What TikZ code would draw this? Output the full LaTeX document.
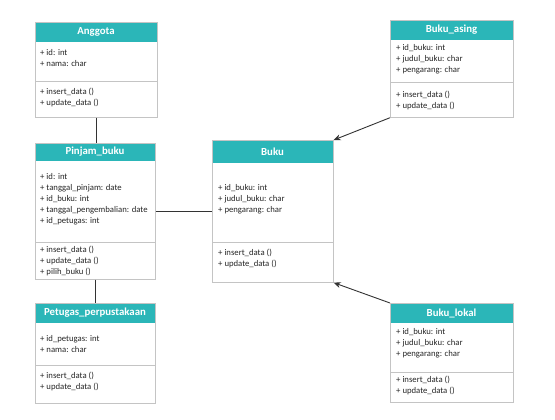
\documentclass[tikz,border=0pt]{standalone}
\usepackage{fontspec}
\setmainfont{Carlito}
\usetikzlibrary{arrows.meta}
\definecolor{headteal}{HTML}{2BB6B8}
\definecolor{framegray}{HTML}{C4C4C4}
\definecolor{arrowgray}{HTML}{333333}
\tikzset{
  umlframe/.style={draw=framegray, line width=0.7pt, inner sep=0pt, fill=none},
  headfill/.style={fill=headteal},
  umltitle/.style={text=white, font=\fontsize{10.8}{12}\selectfont\bfseries, inner sep=0pt},
  umldiv/.style={draw=framegray, line width=0.7pt},
  umltext/.style={anchor=north west, inner sep=0pt, align=left, font=\fontsize{8.7}{11}\selectfont, text=black!85},
  assoc/.style={draw=arrowgray, line width=0.8pt},
  gen/.style={draw=arrowgray, line width=0.9pt, -{Stealth[length=7pt,width=6pt]}}
}
\newcommand\umlbox[8]{%
  \fill[headfill] (#2,#3) rectangle (#4,#5);
  \node[umlframe, anchor=north west, minimum width={#4-#2}, minimum height={#7-#3}] (#1) at (#2,#3) {};
  \node[umltitle] (#1-title) at ({(#2+#4)/2},{(#3+#5)/2}) {#8};
  \draw[umldiv] (#2,#6) -- (#4,#6);
}
\begin{document}
\begin{tikzpicture}[x=1pt,y=-1pt]
\useasboundingbox[fill=white] (0,0) rectangle (555,420);

% Anggota
\umlbox{anggota}{35}{22}{157}{42}{81}{117}{Anggota}
\node[umltext] (anggota-a) at (40,49) {+ id: int\\+ nama: char};
\node[umltext] (anggota-m) at (40,88) {+ insert\_data ()\\+ update\_data ()};

% Pinjam_buku
\umlbox{pinjam}{35}{143}{155}{161}{242}{279}{Pinjam\_buku}
\node[umltext] (pinjam-a) at (40,173.5) {+ id: int\\+ tanggal\_pinjam: date\\+ id\_buku: int\\+ tanggal\_pengembalian: date\\+ id\_petugas: int};
\node[umltext] (pinjam-m) at (40,246) {+ insert\_data ()\\+ update\_data ()\\+ pilih\_buku ()};

% Petugas_perpustakaan
\umlbox{petugas}{35}{303}{155}{323}{365}{403}{Petugas\_perpustakaan}
\node[umltext] (petugas-a) at (40,335) {+ id\_petugas: int\\+ nama: char};
\node[umltext] (petugas-m) at (40,372) {+ insert\_data ()\\+ update\_data ()};

% Buku
\umlbox{buku}{212}{140}{333}{163}{242}{282}{Buku}
\node[umltext] (buku-a) at (218,184) {+ id\_buku: int\\+ judul\_buku: char\\+ pengarang: char};
\node[umltext] (buku-m) at (218,249) {+ insert\_data ()\\+ update\_data ()};

% Buku_asing
\umlbox{asing}{390}{20}{513}{40}{82}{117}{Buku\_asing}
\node[umltext] (asing-a) at (396,44) {+ id\_buku: int\\+ judul\_buku: char\\+ pengarang: char};
\node[umltext] (asing-m) at (396,91) {+ insert\_data ()\\+ update\_data ()};

% Buku_lokal
\umlbox{lokal}{390}{303}{513}{323}{372}{402}{Buku\_lokal}
\node[umltext] (lokal-a) at (396,328) {+ id\_buku: int\\+ judul\_buku: char\\+ pengarang: char};
\node[umltext] (lokal-m) at (396,376) {+ insert\_data ()\\+ update\_data ()};

% connectors
\draw[assoc] (anggota.south) -- (anggota.south |- pinjam.north);
\draw[assoc] (pinjam.south) -- (pinjam.south |- petugas.north);
\draw[assoc] (pinjam.east) -- (pinjam.east -| buku.west);
\draw[gen] (asing.south west) -- (buku.north east);
\draw[gen] (lokal.north west) -- (buku.south east);
\end{tikzpicture}
\end{document}
